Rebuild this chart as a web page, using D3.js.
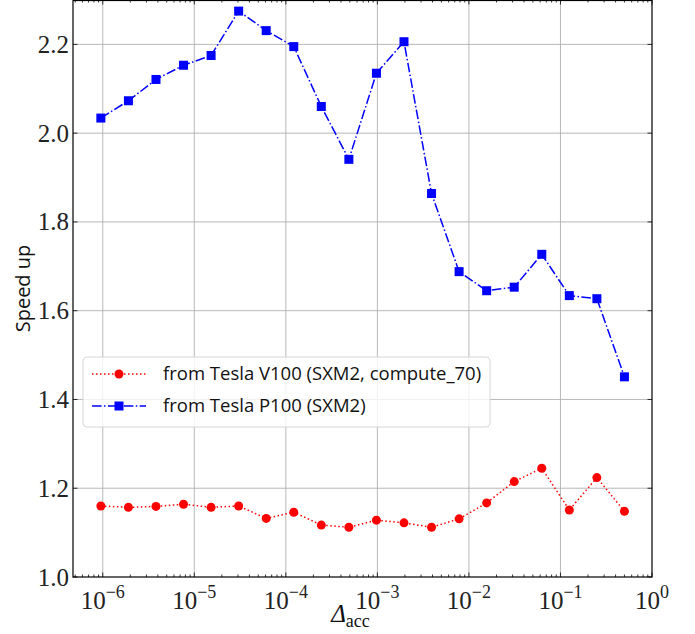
<!DOCTYPE html>
<html>
<head>
<meta charset="utf-8">
<script src="https://cdn.jsdelivr.net/npm/d3@7"></script>
<style>
  body { margin: 0; background: #fff; }
  svg { display: block; }
</style>
</head>
<body>
<div id="chart"></div>
<script>
// exponents k, x = 2^-k
const exponents = [20, 19, 18, 17, 16, 15, 14, 13, 12, 11, 10, 9, 8, 7, 6, 5, 4, 3, 2, 1];
const v100 = [1.160, 1.157, 1.159, 1.164, 1.157, 1.160, 1.132, 1.146, 1.117, 1.112,
              1.128, 1.122, 1.112, 1.131, 1.167, 1.215, 1.245, 1.151, 1.224, 1.148];
const p100 = [2.034, 2.073, 2.121, 2.153, 2.175, 2.275, 2.231, 2.195, 2.060, 1.941,
              2.135, 2.206, 1.864, 1.688, 1.645, 1.653, 1.727, 1.634, 1.627, 1.451];
const yTicks = [1.0, 1.2, 1.4, 1.6, 1.8, 2.0, 2.2];
const xDecades = [-6, -5, -4, -3, -2, -1, 0];
const seriesNames = ["from Tesla V100 (SXM2, compute_70)", "from Tesla P100 (SXM2)"];

const W = 695, H = 634;
const margin = { top: 0, right: 43, bottom: 57, left: 73 };
const width = W - margin.left - margin.right,
      height = H - margin.top - margin.bottom;
const SERIF = "Liberation Serif", SANS = "Open Sans";

const svg = d3.select("#chart").append("svg")
    .attr("width", W).attr("height", H);
const g = svg.append("g")
    .attr("transform", `translate(${margin.left},${margin.top})`);

const x = d3.scaleLog().domain([Math.pow(10, -6.325), 1]).range([0, width]);
const y = d3.scaleLinear().domain([1.0, 2.3]).range([height, 0]);

const xs = exponents.map(k => Math.pow(2, -k));

// grid
g.append("g").selectAll("line").data(xDecades.slice(0, -1)).enter().append("line")
    .attr("x1", d => x(Math.pow(10, d))).attr("x2", d => x(Math.pow(10, d)))
    .attr("y1", 0).attr("y2", height)
    .attr("stroke", "#b0b0b0").attr("stroke-width", 0.9);
g.append("g").selectAll("line").data(yTicks.slice(1)).enter().append("line")
    .attr("x1", 0).attr("x2", width)
    .attr("y1", d => y(d)).attr("y2", d => y(d))
    .attr("stroke", "#b0b0b0").attr("stroke-width", 0.9);

// minor x ticks
const minor = [];
for (let e = -7; e < 0; e++) for (let m = 2; m <= 9; m++) {
  const v = m * Math.pow(10, e);
  if (v >= x.domain()[0] && v <= 1) minor.push(v);
}
const tickG = g.append("g").attr("stroke", "#000").attr("stroke-width", 0.8);
minor.forEach(v => {
  tickG.append("line").attr("x1", x(v)).attr("x2", x(v)).attr("y1", height).attr("y2", height - 2.5);
  tickG.append("line").attr("x1", x(v)).attr("x2", x(v)).attr("y1", 0).attr("y2", 2.5);
});
xDecades.forEach(d => {
  const px = x(Math.pow(10, d));
  tickG.append("line").attr("x1", px).attr("x2", px).attr("y1", height).attr("y2", height - 4.5);
  tickG.append("line").attr("x1", px).attr("x2", px).attr("y1", 0).attr("y2", 4.5);
});
yTicks.forEach(v => {
  tickG.append("line").attr("x1", 0).attr("x2", 4.5).attr("y1", y(v)).attr("y2", y(v));
  tickG.append("line").attr("x1", width).attr("x2", width - 4.5).attr("y1", y(v)).attr("y2", y(v));
});

// x tick labels
xDecades.forEach(d => {
  const t = g.append("text")
      .attr("x", x(Math.pow(10, d))).attr("y", height + 32)
      .attr("text-anchor", "middle")
      .attr("font-family", SERIF).attr("font-size", 25).attr("fill", "#222");
  t.append("tspan").text("10");
  t.append("tspan").attr("dy", -11).attr("font-size", 18)
      .text(d === 0 ? "0" : "\u2212" + (-d));
});

// y tick labels
yTicks.forEach(v => {
  g.append("text")
    .attr("x", -4).attr("y", y(v) + 8.5)
    .attr("text-anchor", "end")
    .attr("font-family", SERIF).attr("font-size", 25).attr("fill", "#222")
    .text(v.toFixed(1));
});

// axis labels
const xlab = svg.append("text")
    .attr("x", margin.left + width / 2 - 12).attr("y", H - 12)
    .attr("text-anchor", "middle")
    .attr("font-family", SERIF).attr("font-size", 25).attr("fill", "#111");
xlab.append("tspan").attr("font-style", "italic").text("\u0394");
xlab.append("tspan").attr("dy", 5).attr("font-size", 18).text("acc");

svg.append("text")
    .attr("transform", `translate(30,${margin.top + height / 2}) rotate(-90)`)
    .attr("text-anchor", "middle")
    .attr("font-family", SANS).attr("font-size", 20).attr("fill", "#111")
    .text("Speed up");

// series
const line = d3.line().x(d => x(d[0])).y(d => y(d[1]));
const redData = xs.map((v, i) => [v, v100[i]]);
const blueData = xs.map((v, i) => [v, p100[i]]);

g.append("path").datum(redData).attr("d", line)
    .attr("fill", "none").attr("stroke", "#ff0000").attr("stroke-width", 1.5)
    .attr("stroke-dasharray", "1.5,2.5");
g.append("g").selectAll("circle").data(redData).enter().append("circle")
    .attr("cx", d => x(d[0])).attr("cy", d => y(d[1])).attr("r", 4.5)
    .attr("fill", "#ff0000");

g.append("path").datum(blueData).attr("d", line)
    .attr("fill", "none").attr("stroke", "#0000ff").attr("stroke-width", 1.5)
    .attr("stroke-dasharray", "9.6,2.4,1.5,2.4");
g.append("g").selectAll("rect").data(blueData).enter().append("rect")
    .attr("x", d => x(d[0]) - 4.5).attr("y", d => y(d[1]) - 4.5)
    .attr("width", 9).attr("height", 9)
    .attr("fill", "#0000ff");

// frame
g.append("rect").attr("x", 0).attr("y", 0.5).attr("width", width).attr("height", height - 0.5)
    .attr("fill", "none").attr("stroke", "#000").attr("stroke-width", 1.2);

// legend
const leg = g.append("g").attr("transform", `translate(${83 - margin.left},${357})`);
leg.append("rect").attr("width", 407).attr("height", 70).attr("rx", 4)
    .attr("fill", "#fff").attr("fill-opacity", 0.8)
    .attr("stroke", "#d6d6d6").attr("stroke-width", 1);
const rows = [
  { name: seriesNames[0], color: "#ff0000", dash: "1.5,2.5", mark: "circle" },
  { name: seriesNames[1], color: "#0000ff", dash: "9.6,2.4,1.5,2.4", mark: "square" }
];
rows.forEach((r, i) => {
  const cy = 17 + i * 32;
  leg.append("line").attr("x1", 9).attr("x2", 63).attr("y1", cy).attr("y2", cy)
      .attr("stroke", r.color).attr("stroke-width", 1.5).attr("stroke-dasharray", r.dash);
  if (r.mark === "circle") {
    leg.append("circle").attr("cx", 36).attr("cy", cy).attr("r", 4.5).attr("fill", r.color);
  } else {
    leg.append("rect").attr("x", 31.5).attr("y", cy - 4.5).attr("width", 9).attr("height", 9).attr("fill", r.color);
  }
  leg.append("text").attr("x", 80).attr("y", cy + 6)
      .attr("font-family", SANS).attr("font-size", 18.5).attr("fill", "#111")
      .text(r.name);
});
</script>
</body>
</html>
